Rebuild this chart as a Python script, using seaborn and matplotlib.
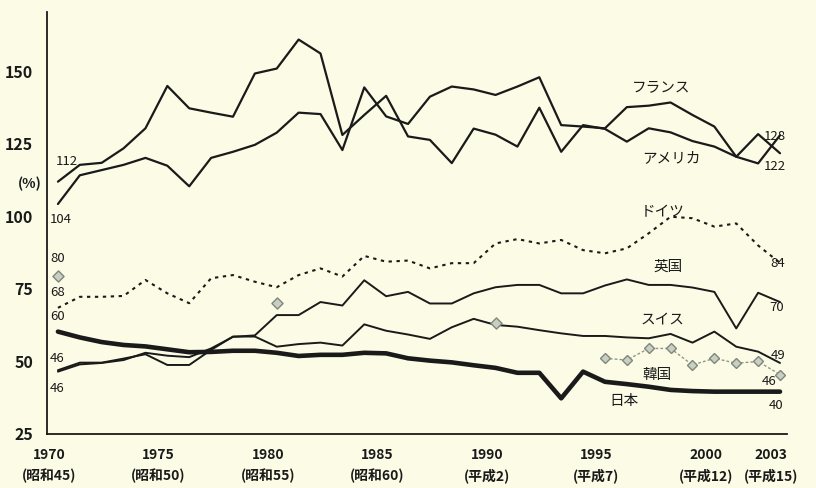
import numpy as np
import pandas as pd
import matplotlib
matplotlib.use("Agg")
import matplotlib.pyplot as plt
import seaborn as sns

# ---------------- data ----------------
years = list(range(1970, 2004))

usa = [112, 117.8, 118.5, 123.5, 130.4, 145, 137.3, 135.8, 134.4, 149.3,
       151, 161, 156.2, 128.1, 135, 141.6, 127.6, 126.4, 118.4, 130.3,
       128.2, 124.1, 137.5, 122.3, 131.5, 130.2, 125.8, 130.4, 129.0, 126.0,
       124.1, 120.6, 118.3, 128]

france = [104.3, 114.2, 116, 117.8, 120.2, 117.5, 110.4, 120.2, 122.3, 124.7,
          128.9, 135.8, 135.3, 122.9, 144.5, 134.5, 131.9, 141.3, 144.8, 143.8,
          141.9, 144.8, 148, 131.5, 131, 130.4, 137.7, 138.2, 139.3, 135,
          131, 120.6, 128.4, 121.8]

germany = [68.5, 72.3, 72.3, 72.6, 78.1, 73.5, 70.1, 78.7, 79.8, 77.5,
           75.6, 79.8, 82.1, 79.3, 86.4, 84.4, 84.8, 82.1, 83.9, 83.9,
           90.7, 92.2, 90.7, 91.9, 88.4, 87.3, 89, 94.2, 99.9, 99.4,
           96.5, 97.6, 90, 84]

uk = [46.5, 49, 49.5, 50.5, 53, 52, 51.5, 54.5, 58.5, 59,
      66, 66, 70.5, 69.3, 78, 72.5, 74, 70, 70, 73.5,
      75.6, 76.4, 76.4, 73.5, 73.5, 76.2, 78.3, 76.4, 76.4, 75.5,
      74, 61.4, 73.7, 70.5]

swiss = [47, 49.6, 49.6, 51, 52.5, 48.8, 48.8, 54, 58.6, 58.6,
         55.1, 56, 56.5, 55.5, 62.8, 60.6, 59.3, 57.8, 61.8, 64.7,
         62.6, 62, 60.8, 59.7, 58.8, 58.8, 58.3, 58, 59.5, 56.5,
         60.3, 55.1, 53.4, 49.5]

japan = [60.3, 58.3, 56.7, 55.7, 55.2, 54.2, 53.2, 53.3, 53.7, 53.7,
         53, 51.9, 52.3, 52.3, 53, 52.8, 51.1, 50.3, 49.7, 48.7,
         47.8, 46.1, 46.1, 37.3, 46.5, 43, 42.2, 41.3, 40.2, 39.8,
         39.6, 39.6, 39.6, 39.6]

korea_years_sparse = [1970, 1980, 1990]
korea_sparse = [79.5, 70.1, 63.2]
korea_years = list(range(1995, 2004))
korea = [51.1, 50.5, 54.5, 54.5, 48.8, 51.1, 49.4, 50, 45.5]

yticks = [25, 50, 75, 100, 125, 150]
xtick_years = [1970, 1975, 1980, 1985, 1990, 1995, 2000, 2003]
xtick_labels = ["1970\n(昭和45)", "1975\n(昭和50)", "1980\n(昭和55)", "1985\n(昭和60)",
                "1990\n(平成2)", "1995\n(平成7)", "2000\n(平成12)", "2003\n(平成15)"]

# ---------------- style ----------------
sns.set_style("white")
plt.rcParams['font.family'] = ['Noto Sans CJK JP', 'DejaVu Sans']
BG = "#fbfbe6"
INK = "#1a1a1a"

fig = plt.figure(figsize=(8.16, 4.88), dpi=100, facecolor=BG)
ax = fig.add_axes([47 / 816, 1 - 434 / 488, 740 / 816, 422 / 488])
ax.set_facecolor(BG)

df = pd.DataFrame({"year": years, "usa": usa, "france": france, "germany": germany,
                   "uk": uk, "swiss": swiss, "japan": japan})

sns.lineplot(data=df, x="year", y="usa", ax=ax, color=INK, lw=1.6)
sns.lineplot(data=df, x="year", y="france", ax=ax, color=INK, lw=1.6)
sns.lineplot(data=df, x="year", y="germany", ax=ax, color=INK, lw=1.5,
             linestyle=(0, (1.6, 2.2)))
sns.lineplot(data=df, x="year", y="uk", ax=ax, color=INK, lw=1.4)
sns.lineplot(data=df, x="year", y="swiss", ax=ax, color=INK, lw=1.4)
sns.lineplot(data=df, x="year", y="japan", ax=ax, color=INK, lw=3.3)

kdf = pd.DataFrame({"year": korea_years, "korea": korea})
sns.lineplot(data=kdf, x="year", y="korea", ax=ax, color="#8f978a", lw=1.0,
             linestyle=(0, (2, 1.5)), marker="D", markersize=5.5,
             markerfacecolor="#c9cfc2", markeredgecolor="#7f877a", markeredgewidth=1.0)
ksdf = pd.DataFrame({"year": korea_years_sparse, "korea": korea_sparse})
sns.scatterplot(data=ksdf, x="year", y="korea", ax=ax, marker="D", s=32,
                color="#c9cfc2", edgecolor="#7f877a", linewidth=1.0, zorder=5)

# ---------------- axes ----------------
x0 = 1969.50
x1 = 2003.32
ax.set_xlim(x0, x1)
ax.set_ylim(25, 170.5)
ax.set_xlabel("")
ax.set_ylabel("")
for s in ["top", "right"]:
    ax.spines[s].set_visible(False)
for s in ["left", "bottom"]:
    ax.spines[s].set_color(INK)
    ax.spines[s].set_linewidth(1.3)

ax.set_yticks(yticks)
ax.set_yticklabels([str(v) for v in yticks], fontsize=11.5, color=INK, fontweight="bold")
ax.set_xticks([y - 0.4 for y in xtick_years])
ax.set_xticklabels(xtick_labels, fontsize=10, color=INK, linespacing=1.55, fontweight="bold")
ax.tick_params(axis="y", direction="in", length=4, width=1, pad=10, colors=INK)
ax.tick_params(axis="x", direction="in", length=3, width=1, pad=10, colors=INK)
ax.get_xticklines()[0].set_visible(False)

fig.text(30 / 816, 1 - 184 / 488, "(%)", fontsize=10, color=INK, ha="center", va="center",
         fontweight="bold")

# ---------------- labels ----------------
def px(xp, yp):
    return (1970 + (xp - 58) / 21.88, 25 + (434 - yp) / 2.9)

num_style = dict(fontsize=9.5, color=INK, va="center")
left_labels = [("112", 56, 162), ("104", 50, 220), ("80", 50, 259), ("68", 50, 293),
               ("60", 50, 317), ("46", 50, 359), ("46", 50, 389)]
for t, xp, yp in left_labels:
    ax.text(*px(xp, yp), t, ha="left", **num_style)

right_labels = [("128", 775, 137), ("122", 775, 167), ("84", 778, 264), ("70", 777, 308),
                ("49", 778, 356), ("46", 769, 382), ("40", 776, 406)]
for t, xp, yp in right_labels:
    ax.text(*px(xp, yp), t, ha="center", **num_style)

name_labels = [("フランス", 661, 87), ("アメリカ", 671, 158), ("ドイツ", 663, 212),
               ("英国", 668, 267), ("スイス", 663, 320), ("韓国", 657, 375), ("日本", 624, 401)]
for t, xp, yp in name_labels:
    ax.text(*px(xp, yp), t, ha="center", va="center", fontsize=10.5, color=INK)

fig.savefig("out.png", dpi=100, facecolor=BG)
